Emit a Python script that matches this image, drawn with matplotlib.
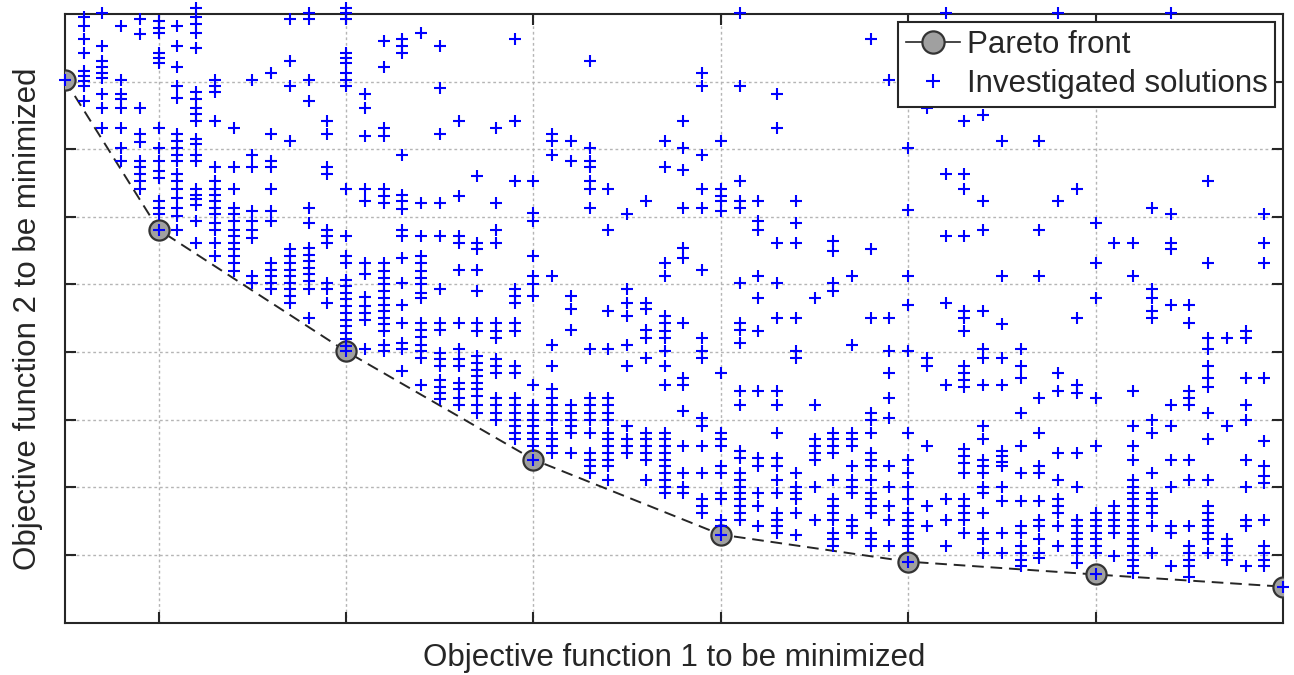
import matplotlib
matplotlib.use('Agg')
import matplotlib.pyplot as plt
from matplotlib.lines import Line2D
import numpy as np

plt.rcParams['font.family'] = ['Liberation Sans', 'DejaVu Sans']

# Pareto front (non-dominated solutions)
pareto_x = [0.0, 0.5, 1.5, 2.5, 3.5, 4.5, 5.5, 6.5]
pareto_y = [8.02, 5.81, 4.01, 2.41, 1.30, 0.90, 0.71, 0.53]

# Investigated solutions, read column by column (x step 0.1)
x_a = [0.1, 0.2, 0.3, 0.4, 0.5, 0.6, 0.7, 0.8, 0.9, 1.0, 1.1, 1.2, 1.3, 1.4, 1.5, 1.6]
cols_a = [
    [8.95, 8.82, 8.63, 8.43, 8.16, 8.08, 8.01, 7.94, 7.71],
    [9.02, 8.53, 8.30, 8.22, 8.13, 8.05, 7.81, 7.61, 7.32],
    [8.82, 8.03, 7.81, 7.74, 7.61, 7.32, 7.02, 6.82],
    [8.92, 8.70, 7.61, 7.22, 7.10, 6.82, 6.73, 6.63, 6.53, 6.41],
    [8.90, 8.80, 8.72, 8.43, 8.35, 8.28, 7.32, 7.02, 6.82, 6.68, 6.58, 6.23, 6.13, 6.04],
    [8.82, 8.53, 8.21, 7.93, 7.76, 7.22, 7.12, 7.02, 6.92, 6.82, 6.63, 6.53, 6.41, 6.28,
     6.13, 6.01, 5.81],
    [9.09, 8.95, 8.85, 8.72, 8.50, 7.84, 7.74, 7.61, 7.52, 7.42, 7.15, 7.07, 6.92, 6.82,
     6.41, 6.33, 6.26, 6.18, 5.94, 5.62],
    [8.03, 7.93, 7.84, 7.42, 6.73, 6.53, 6.41, 6.33, 6.23, 6.13, 6.04, 5.91, 5.81, 5.62, 5.42],
    [7.32, 6.73, 6.41, 6.13, 6.04, 5.94, 5.81, 5.71, 5.62, 5.52, 5.42, 5.32, 5.20],
    [8.03, 6.92, 6.73, 6.09, 5.94, 5.81, 5.69, 5.12, 5.02],
    [8.13, 7.22, 6.82, 6.73, 6.41, 6.09, 5.94, 5.32, 5.22, 5.12, 5.02, 4.93],
    [8.92, 8.30, 7.93, 7.12, 5.52, 5.42, 5.32, 5.22, 5.12, 5.02, 4.93, 4.83, 4.73],
    [9.02, 8.92, 8.03, 7.71, 6.13, 5.91, 5.54, 5.44, 5.35, 5.25, 5.15, 5.05, 4.93, 4.51],
    [7.42, 7.22, 6.73, 6.63, 5.81, 5.71, 5.62, 5.02, 4.93, 4.73],
    [9.09, 9.02, 8.92, 8.43, 8.35, 8.28, 8.13, 8.03, 7.93, 6.41, 5.71, 5.42, 5.32, 5.07,
     4.97, 4.88, 4.78, 4.68, 4.58, 4.48, 4.38, 4.28, 4.19, 4.09],
    [7.81, 7.61, 7.19, 6.41, 6.23, 5.32, 5.15, 4.82, 4.68, 4.58, 4.48, 4.04],
]

x_b = [1.7, 1.8, 1.9, 2.0, 2.1, 2.2, 2.3, 2.4, 2.5, 2.6, 2.7, 2.8, 2.9, 3.0, 3.1, 3.2]
cols_b = [
    [8.60, 8.21, 7.32, 7.19, 6.41, 6.31, 6.21, 5.32, 5.20, 5.10, 5.00, 4.90, 4.80, 4.70,
     4.60, 4.51, 4.41, 4.31, 4.11, 4.01],
    [8.63, 8.53, 8.43, 6.92, 6.33, 6.23, 6.11, 5.81, 5.71, 5.39, 5.02, 4.70, 4.43, 4.14,
     4.04, 3.72],
    [8.72, 6.21, 5.71, 5.42, 5.32, 5.20, 5.10, 5.00, 4.88, 4.80, 4.43, 4.33, 4.23, 4.11,
     4.01, 3.91, 3.52],
    [8.53, 7.91, 7.22, 6.21, 5.71, 4.93, 4.43, 4.33, 3.99, 3.89, 3.79, 3.59, 3.49, 3.40, 3.30],
    [7.42, 6.31, 5.71, 5.62, 5.22, 4.43, 4.04, 3.89, 3.79, 3.54, 3.45, 3.32, 3.22],
    [6.60, 5.62, 5.52, 5.22, 4.90, 4.43, 4.31, 3.94, 3.84, 3.74, 3.64, 3.54, 3.45, 3.35,
     3.22, 3.10],
    [7.32, 6.21, 5.81, 5.62, 4.43, 4.31, 4.21, 3.89, 3.79, 3.69, 3.32, 3.22, 3.10, 3.00],
    [8.63, 7.42, 6.53, 4.93, 4.83, 4.73, 4.43, 4.31, 3.79, 3.69, 3.32, 3.22, 3.10, 3.00,
     2.90, 2.80, 2.71],
    [6.53, 6.06, 5.94, 5.42, 5.12, 5.00, 4.83, 3.52, 3.22, 3.10, 3.00, 2.90, 2.80, 2.71, 2.61],
    [7.22, 7.12, 6.92, 5.12, 4.11, 3.79, 3.45, 3.32, 3.22, 3.10, 3.00, 2.80, 2.71, 2.61, 2.51],
    [7.12, 6.82, 4.83, 4.63, 4.33, 3.22, 3.10, 3.00, 2.90, 2.80, 2.51],
    [8.30, 7.02, 6.82, 6.73, 6.53, 6.41, 6.13, 4.04, 3.32, 3.22, 3.10, 3.00, 2.80, 2.51,
     2.41, 2.31, 2.21],
    [6.41, 5.81, 4.60, 4.04, 3.32, 3.22, 3.10, 3.00, 2.80, 2.71, 2.61, 2.51, 2.41, 2.31, 2.11],
    [6.04, 4.93, 4.73, 4.53, 4.11, 3.79, 2.90, 2.71, 2.61, 2.51],
    [6.23, 4.73, 4.63, 4.33, 4.21, 3.91, 2.80, 2.71, 2.61, 2.51, 2.41, 2.11],
    [7.12, 6.73, 5.32, 5.12, 4.53, 4.43, 4.31, 4.21, 4.01, 3.79, 3.52, 2.80, 2.71, 2.61,
     2.51, 2.41, 2.31, 2.21, 2.11, 2.01, 1.92],
]

x_c = [3.3, 3.4, 3.5, 3.6, 3.7, 3.8, 3.9, 4.0, 4.1, 4.2, 4.3, 4.4, 4.5, 4.6, 4.7, 4.8]
cols_c = [
    [7.42, 7.02, 6.70, 6.13, 5.54, 5.39, 4.43, 3.62, 3.52, 3.13, 2.61, 2.21, 2.01, 1.92],
    [8.13, 7.93, 6.92, 6.41, 6.13, 5.22, 4.21, 4.01, 3.91, 3.02, 2.90, 2.61, 2.21, 1.82,
     1.72, 1.62],
    [7.12, 6.41, 6.31, 6.23, 6.08, 3.69, 2.80, 2.71, 2.61, 2.31, 2.21, 1.92, 1.82, 1.52, 1.42],
    [9.02, 7.93, 6.53, 6.23, 6.13, 5.02, 4.43, 4.33, 4.14, 3.42, 3.22, 2.53, 2.43, 2.21,
     2.11, 2.01, 1.92, 1.82, 1.72, 1.62, 1.52],
    [6.23, 5.94, 5.81, 5.12, 4.80, 4.31, 3.42, 2.43, 2.31, 1.92, 1.72, 1.42],
    [7.81, 7.32, 5.62, 5.02, 4.51, 3.42, 3.22, 2.80, 2.43, 2.31, 2.11, 1.92, 1.62, 1.52,
     1.42, 1.32],
    [6.23, 5.91, 5.62, 4.51, 4.01, 3.91, 2.21, 2.01, 1.92, 1.82, 1.62, 1.30],
    [4.80, 3.22, 2.71, 2.61, 2.51, 2.41, 2.01, 1.52],
    [5.64, 5.49, 5.02, 4.90, 2.80, 2.71, 2.61, 2.51, 2.11, 1.82, 1.72, 1.62, 1.52, 1.32,
     1.23, 1.13],
    [5.12, 4.11, 2.80, 2.71, 2.61, 2.31, 2.11, 2.01, 1.92, 1.52, 1.42, 1.32],
    [8.63, 5.52, 4.51, 3.10, 3.00, 2.80, 2.51, 2.41, 2.31, 2.11, 1.92, 1.82, 1.72, 1.62,
     1.32, 1.23, 1.13],
    [8.03, 4.51, 4.01, 3.69, 3.32, 3.03, 2.31, 2.01, 1.72, 1.52, 1.13],
    [7.02, 6.10, 5.12, 4.70, 4.01, 2.80, 2.41, 2.21, 2.01, 1.82, 1.62, 1.52, 1.42, 1.32,
     1.23, 1.13],
    [7.61, 3.91, 3.79, 2.61, 1.72, 1.42],
    [9.02, 6.63, 5.71, 4.73, 3.52, 1.82, 1.52, 1.13],
    [7.42, 6.63, 6.41, 5.71, 4.60, 4.51, 4.31, 3.79, 3.69, 3.59, 3.49, 2.56, 2.46, 2.36,
     2.21, 1.82, 1.72, 1.62, 1.52, 1.32],
]

x_d = [4.9, 5.0, 5.1, 5.2, 5.3, 5.4, 5.5, 5.6, 5.7, 5.8, 5.9, 6.0, 6.1, 6.2, 6.3, 6.4]
cols_d = [
    [7.51, 6.23, 5.81, 4.60, 4.04, 3.91, 3.52, 2.90, 2.71, 2.41, 2.31, 2.21, 2.01, 1.92,
     1.62, 1.32, 1.23, 1.03],
    [7.12, 5.12, 4.41, 3.91, 3.52, 2.53, 2.46, 2.38, 2.31, 2.01, 1.79, 1.32, 1.03],
    [4.04, 3.79, 3.62, 3.10, 2.61, 2.21, 1.79, 1.42, 1.32, 1.13, 1.03, 0.93, 0.83],
    [7.12, 5.81, 5.12, 3.32, 2.80, 2.31, 2.21, 1.79, 1.52, 1.42, 1.23, 1.03, 0.95],
    [9.02, 6.23, 3.69, 3.42, 2.51, 2.11, 1.82, 1.72, 1.62, 1.42, 1.13],
    [6.41, 4.51, 3.52, 3.40, 2.51, 2.01, 1.52, 1.42, 1.32, 1.23, 1.13, 1.03, 0.88],
    [5.91, 5.32, 4.80, 3.32, 2.61, 1.62, 1.52, 1.42, 1.32, 1.23, 1.13, 1.03],
    [5.62, 1.72, 1.62, 1.52, 1.42, 1.32, 0.98],
    [5.62, 5.12, 3.42, 2.90, 2.61, 2.41, 2.11, 2.01, 1.92, 1.82, 1.72, 1.62, 1.52, 1.42,
     1.32, 1.23, 1.13, 1.03, 0.93, 0.83, 0.73],
    [6.13, 4.93, 4.80, 4.60, 4.51, 3.00, 2.80, 2.21, 1.92, 1.82, 1.72, 1.62, 1.42, 1.03],
    [9.02, 6.04, 5.62, 5.52, 4.70, 3.22, 2.90, 2.41, 2.01, 1.42, 1.32, 0.83],
    [4.70, 4.43, 3.42, 3.32, 3.22, 2.41, 2.11, 1.42, 1.13, 1.03, 0.93, 0.83, 0.68],
    [6.53, 5.32, 4.21, 4.04, 3.79, 3.62, 3.49, 3.10, 2.71, 2.11, 1.72, 1.62, 1.52, 1.42,
     1.32, 1.23, 1.03],
    [4.21, 2.90, 1.23, 1.13, 1.03, 0.93],
    [4.31, 4.21, 3.62, 3.22, 3.00, 2.41, 2.01, 1.52, 1.42, 0.83],
    [6.04, 5.62, 5.32, 3.62, 2.68, 2.31, 2.16, 2.06, 1.52, 1.13, 1.03, 0.93, 0.83],
]

# flatten columns into point lists
sol_x, sol_y = [], []
for xs, cols in [(x_a, cols_a), (x_b, cols_b), (x_c, cols_c), (x_d, cols_d)]:
    for xv, ys in zip(xs, cols):
        sol_x += [xv] * len(ys)
        sol_y += ys
# the front points are investigated solutions too
sol_x += pareto_x
sol_y += pareto_y

DARK = '#262626'
W, H = 1294, 675
fig = plt.figure(figsize=(W / 100, H / 100), dpi=100)
ax = fig.add_axes([65 / W, 1 - 622.5 / H, (1283 - 65) / W, (622.5 - 14) / H])

ax.plot(pareto_x, pareto_y, color=DARK, lw=1.4, dashes=(6, 3.5),
        marker='o', ms=14.5, mfc='#a0a0a0', mec='#333333', mew=1.6, zorder=3)
ax.plot(sol_x, sol_y, ls='none', marker='+', color='#0000ff', ms=8.5, mew=1.5,
        zorder=4, clip_on=False)

ax.set_xlim(0, 6.5)
ax.set_ylim(0, 9)
ax.set_xticks([0.5, 1.5, 2.5, 3.5, 4.5, 5.5])
ax.set_yticks([1, 2, 3, 4, 5, 6, 7, 8])
ax.set_xticklabels([])
ax.set_yticklabels([])
ax.tick_params(direction='in', length=8, width=1.5, color=DARK,
               top=True, right=True)
ax.grid(True, color='#b5b5b5', lw=1, linestyle=(0, (2, 2)))
ax.set_axisbelow(True)
for s in ax.spines.values():
    s.set_color(DARK)
    s.set_linewidth(1.5)

ax.set_xlabel('Objective function 1 to be minimized', fontsize=22.5, color=DARK, labelpad=11)
ax.set_ylabel('Objective function 2 to be minimized', fontsize=22.5, color=DARK, labelpad=12)

handles = [
    Line2D([], [], color=DARK, lw=1.2, marker='o', ms=16, mfc='#a0a0a0',
           mec='#333333', mew=1.6),
    Line2D([], [], ls='none', marker='+', color='#0000ff', ms=10, mew=1.5),
]
leg = ax.legend(handles, ['Pareto front', 'Investigated solutions'], loc='upper right',
                fontsize=22.5, fancybox=False, framealpha=1, edgecolor=DARK,
                borderpad=0.25, labelspacing=0.3, handlelength=1.75,
                handletextpad=0.2, borderaxespad=0.25)
leg.get_frame().set_linewidth(1.5)
leg.set_zorder(10)
for t in leg.get_texts():
    t.set_color(DARK)

fig.savefig('out.png', dpi=100)
